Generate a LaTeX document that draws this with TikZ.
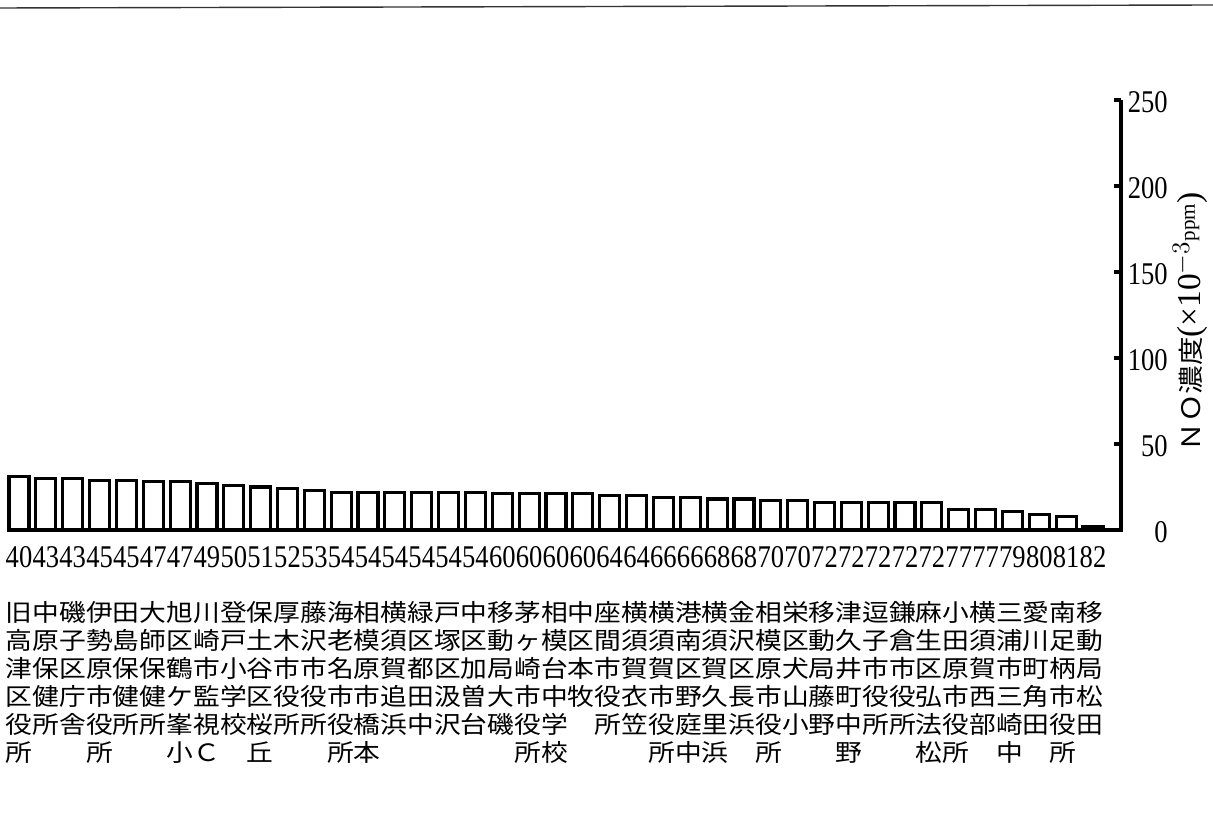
\documentclass[tikz,border=0pt]{standalone}
\usepackage{fontspec}
\newfontfamily\cjk[FakeStretch=1.12]{Noto Sans CJK JP}
\newfontfamily\numfont[FakeStretch=0.84]{Liberation Serif}
\newfontfamily\titlefont{Liberation Serif}
\usetikzlibrary{calc}

\tikzset{
  bar/.style={line width=1.8pt, line join=miter},
  axisline/.style={line width=2.4pt},
  rank/.style={font=\numfont\fontsize{18}{18}\selectfont, inner sep=0pt, anchor=base},
  ticklabel/.style={font=\numfont\fontsize{18}{18}\selectfont, inner sep=0pt, anchor=east},
  namerow/.style={font=\cjk\fontsize{13.6}{14}\selectfont, inner sep=0pt, anchor=base west},
}

\begin{document}
\begin{tikzpicture}[x=0.02cm, y=-0.02cm]
  \useasboundingbox (0,0) rectangle (1213,834);
  \draw[line width=0.8pt, black!80] (0,8) -- (1213,5);

  % bars: column / rank / value
  \foreach \i/\rk/\val in {1/40/31, 2/43/30, 3/43/30, 4/45/29, 5/45/29, 6/47/28, 7/47/28,
      8/49/27, 9/50/26, 10/51/25, 11/52/24, 12/53/23, 13/54/22, 14/54/22, 15/54/22,
      16/54/22, 17/54/22, 18/54/22, 19/60/21, 20/60/21, 21/60/21, 22/60/21, 23/64/20,
      24/64/20, 25/66/19, 26/66/19, 27/68/18, 28/68/18, 29/70/17, 30/70/17, 31/72/16,
      32/72/16, 33/72/16, 34/72/16, 35/72/16, 36/77/12, 37/77/12, 38/79/11, 39/80/9,
      40/81/8, 41/82/2}{
    \coordinate (b\i) at ({19+26.85*(\i-1)}, 530);
    \draw[bar] ($(b\i)+(-10,0)$) -- ++(0,-1.72*\val) -- ++(20,0) -- ++(0,1.72*\val);
    \node[rank] (r\i) at ($(b\i)+(0,37)$) {\rk};
  }

  % axes
  \draw[axisline] (7,530) -- (1121,530) -- (1121,100);
  \foreach \v in {50,100,150,200,250}
    \draw[axisline] (1121,530-1.72*\v) -- ++(-7,0);
  \foreach \v in {0,50,100,150,200,250}
    \node[ticklabel] (t\v) at (1168,532-1.72*\v) {\v};
  \node[rotate=90, inner sep=0pt] (ytitle) at (1190,322)
    {{\cjk\fontsize{14.5}{14}\selectfont ＮＯ濃度}{\titlefont\fontsize{19}{19}\selectfont (×10$^{-3}$}\raisebox{3pt}{\titlefont\fontsize{12}{12}\selectfont ppm}{\titlefont\fontsize{19}{19}\selectfont )}};

  % station names
  \node[namerow] (name1) at (5.6,621) {旧中磯伊田大旭川登保厚藤海相横緑戸中移茅相中座横横港横金相栄移津逗鎌麻小横三愛南移};
  \node[namerow] (name2) at (5.6,649) {高原子勢島師区崎戸土木沢老模須区塚区動ヶ模区間須須南須沢模区動久子倉生田須浦川足動};
  \node[namerow] (name3) at (5.6,677) {津保区原保保鶴市小谷市市名原賀都区加局崎台本市賀賀区賀区原犬局井市市区原賀市町柄局};
  \node[namerow] (name4) at (5.6,705) {区健庁市健健ケ監学区役役市市追田汲曽大市中牧役衣市野久長市山藤町役役弘市西三角市松};
  \node[namerow] (name5) at (5.6,733) {役所舎役所所峯視校桜所所役橋浜中沢台磯役学　所笠役庭里浜役小野中所所法役部崎田役田};
  \node[namerow] (name6) at (5.6,761) {所　　所　　小Ｃ　丘　　所本　　　　　所校　　　所中浜　所　　野　　松所　中　所};
\end{tikzpicture}
\end{document}
